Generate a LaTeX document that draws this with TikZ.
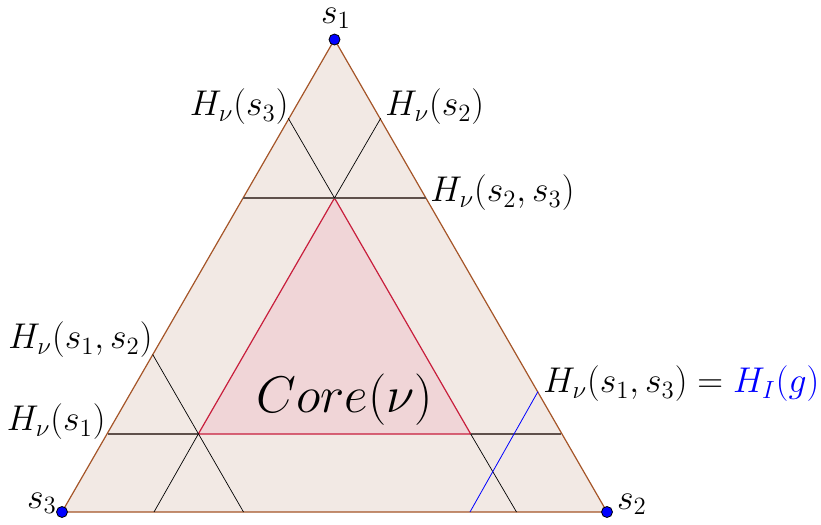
\documentclass[tikz,border=0pt]{standalone}
\usepackage{amsmath, amssymb}
\usepackage{tikz}
\usetikzlibrary{positioning, calc}

\definecolor{fondo}{RGB}{242,233,228}
\definecolor{nucleo}{RGB}{240,213,215}
\definecolor{borde}{RGB}{165,85,40}
\definecolor{rojo}{RGB}{200,30,60}
\definecolor{gris}{RGB}{95,80,75}

\begin{document}
\begin{tikzpicture}[x=0.5pt, y=-0.5pt,
        vertice/.style={circle, draw=black, fill=blue, inner sep=0pt, minimum size=5.5pt},
        etiq/.style={font=\LARGE, inner sep=1pt, scale=1.035, transform shape},
        recta/.style={draw=black, line width=0.35pt},
        horiz/.style={draw=gris, line width=0.6pt}]
        \useasboundingbox (0,0) rectangle (821,525);
        % vertices del simplex
        \coordinate (S1) at (334.5,39.5);
        \coordinate (S3) at (62,512);
        \coordinate (S2) at (607,512);
        % puntos del nucleo
        \coordinate (C1) at (334.5,198);
        \coordinate (C3) at (198.3,434);
        \coordinate (C2) at (470.7,434);
        % puntos sobre los lados
        \coordinate (A3) at (288.3,118.3);
        \coordinate (A2) at (380.7,118.3);
        \coordinate (B3) at (243.4,198);
        \coordinate (B2) at (425.6,198);
        \coordinate (D1) at (152.7,354.5);
        \coordinate (E1) at (107.9,434);
        \coordinate (E2) at (561.1,434);
        \coordinate (F1) at (154,512);
        \coordinate (F2) at (243.5,512);
        \coordinate (G1) at (516.5,512);
        \coordinate (G2) at (470,512);
        \coordinate (I1) at (538,391.5);
        \filldraw[fill=fondo, draw=borde, line width=0.6pt] (S1) -- (S2) -- (S3) -- cycle;
        \filldraw[fill=nucleo, draw=rojo, line width=0.6pt] (C1) -- (C2) -- (C3) -- cycle;
        \draw[horiz] (B3) -- (C1);
        \draw[horiz] (C1) -- (B2);
        \draw[horiz] (E1) -- (C3);
        \draw[horiz] (C2) -- (E2);
        \draw[recta] (A3) -- (C1);
        \draw[recta] (A2) -- (C1);
        \draw[recta] (D1) -- (F2);
        \draw[recta] (C3) -- (F1);
        \draw[recta] (C2) -- (G1);
        \draw[draw=blue, line width=0.4pt] (I1) -- (G2);
        \node[vertice] (v1) at (S1) {};
        \node[vertice] (v2) at (S2) {};
        \node[vertice] (v3) at (S3) {};
        \node[etiq, inner sep=0pt] (ls1) at (336,18) {$s_1$};
        \node[etiq] (ls2) at (632,504) {$s_2$};
        \node[etiq] (ls3) at (42,503) {$s_3$};
        \node[etiq, anchor=east] (h3) at (291,107) {$H_\nu(s_3)$};
        \node[etiq, anchor=west] (h2) at (383,107) {$H_\nu(s_2)$};
        \node[etiq, anchor=west] (h23) at (428,193) {$H_\nu(s_2,s_3)$};
        \node[etiq, anchor=east] (h12) at (155,340) {$H_\nu(s_1,s_2)$};
        \node[etiq, anchor=east] (h1) at (108,422) {$H_\nu(s_1)$};
        \node[etiq, anchor=west] (h13) at (541,384) {$H_\nu(s_1,s_3) = \textcolor{blue}{H_I(g)}$};
        \node[font=\Huge, scale=1.035, transform shape] (core) at (345,400) {$Core(\nu)$};
    \end{tikzpicture}
\end{document}
